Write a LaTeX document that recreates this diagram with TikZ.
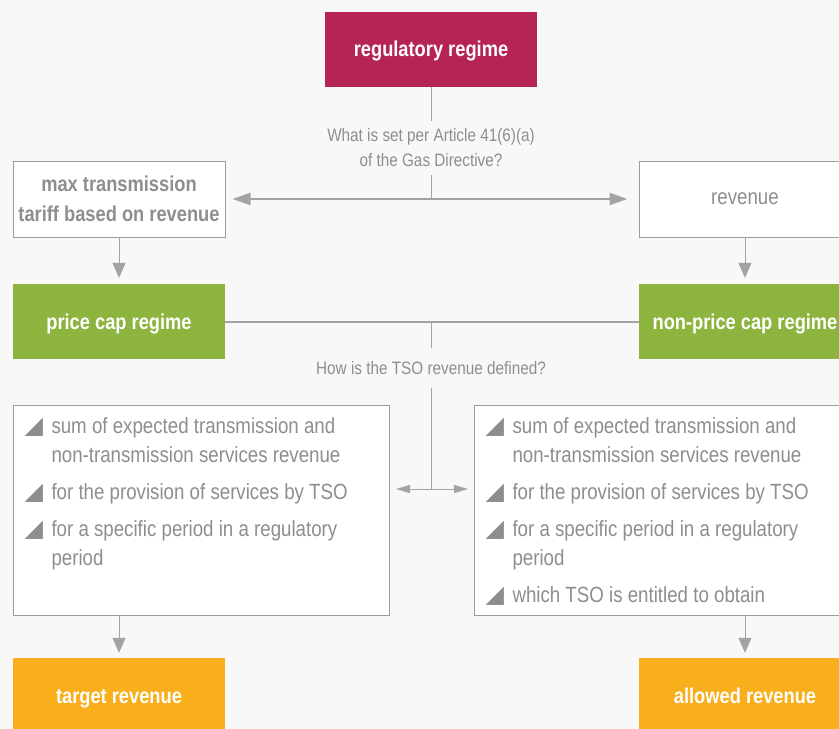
\documentclass[tikz,border=0pt]{standalone}
\usepackage{fontspec}
\setmainfont{Liberation Sans}[FakeStretch=0.85]
\newfontfamily\symfont{DejaVu Sans}
\usetikzlibrary{positioning, arrows.meta}
\definecolor{bgray}{HTML}{F8F8F8}
\definecolor{txtgray}{HTML}{8E8E8E}
\definecolor{boxgray}{HTML}{9C9C9C}
\definecolor{linegray}{HTML}{A3A3A7}
\definecolor{regred}{HTML}{B52453}
\definecolor{capgreen}{HTML}{8DB43E}
\definecolor{revorange}{HTML}{F9AE1B}
\newcommand{\tri}{{\color{boxgray!90!black}\symfont\fontsize{24}{24}\selectfont ◢}}
\newcommand{\itm}[1]{\hangindent=27pt\hangafter=1\noindent\makebox[27pt][l]{\tri}#1\par}

\begin{document}
\begin{tikzpicture}[x=1pt,y=-1pt,
  head/.style={minimum width=212pt, minimum height=75pt, inner sep=0pt, text=white,
    text height=19pt, text depth=4pt, font=\bfseries\fontsize{21.5}{24}\selectfont},
  choice/.style={draw=boxgray, fill=white, line width=1pt, minimum width=212pt,
    minimum height=76pt, inner sep=0pt, text=txtgray, align=center},
  listbox/.style={draw=boxgray, fill=white, line width=1pt, anchor=north west,
    inner xsep=11pt, inner ysep=0pt, text=txtgray, font=\fontsize{22}{29}\selectfont},
  ask/.style={text=txtgray, font=\fontsize{18}{25}\selectfont, align=center, inner xsep=0pt},
  conn/.style={draw=linegray, line width=1pt},
  darr/.style={conn, line width=2pt, {Triangle[length=18pt,width=12pt]}-{Triangle[length=18pt,width=12pt]}},
  arr/.style={conn, -{Triangle[length=15pt,width=13pt]}},
  sarr/.style={conn, -{Triangle[length=14pt,width=8pt]}}]
  \clip (0,0) rectangle (839,729);
  \fill[bgray] (0,0) rectangle (839,729);

  % top of the tree
  \node[head, fill=regred] (reg) at (431,49) {regulatory regime};
  \node[ask, inner ysep=8pt] (q1) at (431,148) {What is set per Article 41(6)(a)\\of the Gas Directive?};
  \node[choice, font=\bfseries\fontsize{21.5}{30}\selectfont] (maxt) at (119,199) {max transmission\\tariff based on revenue};
  \node[choice, font=\fontsize{22}{24}\selectfont] (rev) at (745,199) {revenue};

  % regimes
  \node[head, fill=capgreen] (pcap) at (119,321.5) {price cap regime};
  \node[head, fill=capgreen] (npcap) at (745,321.5) {non-price cap regime};
  \node[ask, inner ysep=13pt] (q2) at (431,368) {How is the TSO revenue defined?};

  % definitions
  \node[listbox] (plist) at (13,405) {\parbox[t][210pt][t]{354pt}{\setlength{\parskip}{8pt}\vspace*{4pt}
    \itm{sum of expected transmission and\\non-transmission services revenue}
    \itm{for the provision of services by TSO}
    \itm{for a specific period in a regulatory\\period}}};
  \node[listbox] (alist) at (474,405) {\parbox[t][210pt][t]{354pt}{\setlength{\parskip}{8pt}\vspace*{4pt}
    \itm{sum of expected transmission and\\non-transmission services revenue}
    \itm{for the provision of services by TSO}
    \itm{for a specific period in a regulatory\\period}
    \itm{which TSO is entitled to obtain}}};

  \node[head, fill=revorange] (tgt) at (119,695.5) {target revenue};
  \node[head, fill=revorange] (alw) at (745,695.5) {allowed revenue};

  % connectors
  \draw[conn] (reg.south) -- (q1.north);
  \draw[conn] (q1.south) -- (q1.south |- maxt.east);
  \draw[darr, shorten <=7pt, shorten >=11pt] (maxt.east) -- (rev.west);
  \draw[arr, shorten >=6pt] (maxt.south) -- (pcap.north);
  \draw[arr, shorten >=6pt] (rev.south) -- (npcap.north);
  \draw[conn, line width=2pt] (pcap.east) -- (npcap.west);
  \draw[conn] (q2.north |- pcap.east) -- (q2.north);
  \coordinate (j3) at (431,489);
  \draw[conn] (q2.south) -- (j3);
  \draw[sarr, shorten >=6pt] (j3) -- (j3 -| plist.east);
  \draw[sarr, shorten >=6pt] (j3) -- (j3 -| alist.west);
  \draw[arr, shorten >=5pt] (tgt.north |- plist.south) -- (tgt.north);
  \draw[arr, shorten >=5pt] (alw.north |- alist.south) -- (alw.north);
\end{tikzpicture}
\end{document}
